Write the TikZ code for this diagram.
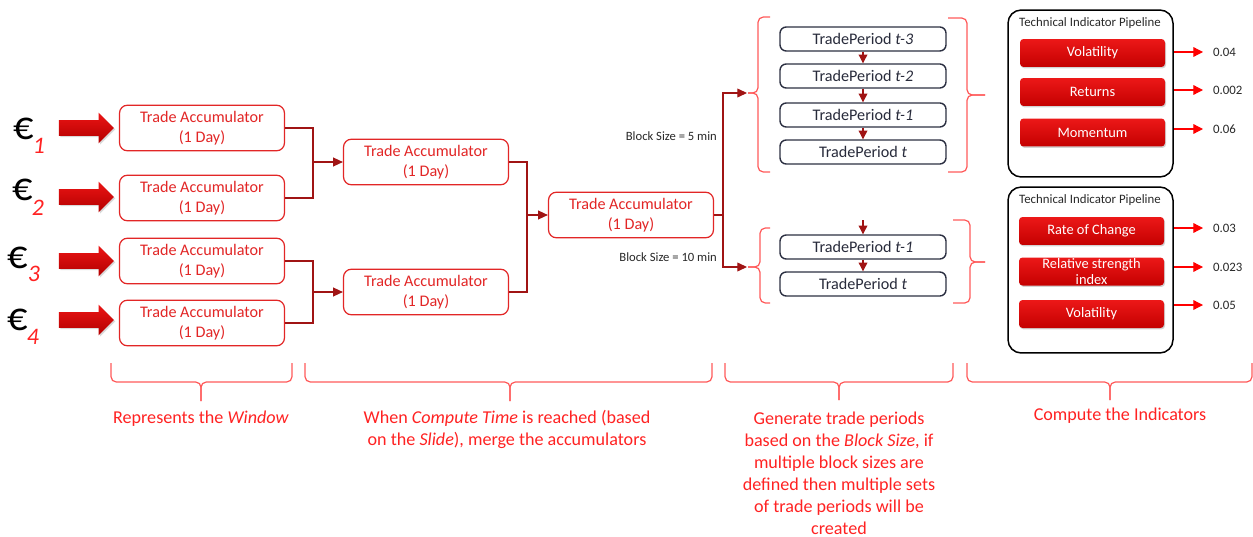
\documentclass[tikz,border=0pt]{standalone}
\usepackage{fontspec}
\setmainfont{Carlito}
\usetikzlibrary{arrows.meta,positioning,shapes.arrows,shadows}
\definecolor{accred}{RGB}{226,38,38}
\definecolor{linkred}{RGB}{160,20,20}
\definecolor{notered}{RGB}{255,34,34}
\definecolor{bracered}{RGB}{255,90,90}
\definecolor{slate}{RGB}{44,48,66}
\definecolor{inkgray}{RGB}{40,40,40}
\tikzset{
    %Define standard arrow tip
    >={Triangle[length=5.5pt,width=5.5pt]},
    %Define style for boxes
    accbox/.style={
           rectangle,
           rounded corners=4.5pt,
           draw=accred, line width=0.7pt,
           minimum width=3.3cm,
           minimum height=0.83cm,
           font=\fontsize{9.2}{11.4}\selectfont,
           text=accred,
           align=center,
           fill=white},
    periodbox/.style={
           rectangle,
           rounded corners=3.5pt,
           draw=slate, line width=0.8pt,
           minimum width=3.32cm,
           minimum height=0.48cm,
           inner sep=0pt,
           font=\fontsize{9.2}{11}\selectfont,
           text=slate!90!black,
           fill=white},
    pipebox/.style={
           rectangle,
           rounded corners=7.5pt,
           draw=black, line width=0.85pt,
           minimum width=3.3cm},
    button/.style={
           rectangle,
           rounded corners=2pt,
           minimum width=2.9cm,
           minimum height=0.56cm,
           inner sep=0pt,
           top color={rgb,255:red,236;green,24;blue,24},
           bottom color={rgb,255:red,196;green,0;blue,0},
           drop shadow={shadow xshift=0.6pt,shadow yshift=-0.8pt,opacity=0.35},
           font=\fontsize{8.2}{9}\selectfont,
           text=white,
           align=center},
    bigarrow/.style={
           single arrow,
           minimum height=1.1cm,
           minimum width=0pt,
           inner xsep=0pt,
           inner ysep=4.25pt,
           single arrow head extend=4.25pt,
           top color={rgb,255:red,236;green,20;blue,20},
           bottom color={rgb,255:red,178;green,0;blue,0},
           drop shadow={shadow xshift=0.8pt,shadow yshift=-0.8pt,opacity=0.3}},
    euro/.style={font=\fontsize{23}{23}\selectfont, inner sep=0pt},
    idx/.style={font=\fontsize{13.5}{13.5}\selectfont\itshape, text=notered, inner sep=0pt},
    title/.style={font=\fontsize{7.3}{8}\selectfont, text=inkgray, inner sep=1pt},
    blocktext/.style={font=\fontsize{7.2}{8}\selectfont, text=inkgray, inner sep=1pt},
    valtext/.style={font=\fontsize{7.3}{8}\selectfont, text=inkgray, anchor=west,
           inner xsep=5.5pt, inner ysep=1pt},
    note/.style={font=\fontsize{10.3}{12.5}\selectfont, text=notered, align=center},
    % Define arrow styles
    link/.style={draw=linkred, line width=0.65pt},
    linkarr/.style={link, ->, >={Triangle[length=5.5pt,width=5pt]}},
    steparr/.style={->, draw=linkred, line width=0.65pt, >={Triangle[length=5pt,width=5pt]}},
    outarr/.style={->, draw=red, line width=0.7pt},
    bracket/.style={draw=bracered, line width=0.7pt, rounded corners=3pt}
}
\begin{document}
\begin{tikzpicture}[x=0.02cm,y=-0.02cm]
\useasboundingbox (0,0) rectangle (1253,537);
 %inputs
\node[euro] (eur1) at (24,129) {€};
\node[idx] (i1) at (39,146) {1};
\node[euro] (eur2) at (23,190) {€};
\node[idx] (i2) at (38,208) {2};
\node[euro] (eur3) at (18,258) {€};
\node[idx] (i3) at (34,274) {3};
\node[euro] (eur4) at (18,320) {€};
\node[idx] (i4) at (33,337) {4};
\node[bigarrow] (in1) at (82.5,128) {};
\node[bigarrow] (in2) at (82.5,197) {};
\node[bigarrow] (in3) at (82.5,261) {};
\node[bigarrow] (in4) at (82.5,320) {};
 %accumulators
\node[accbox] (acc1) at (202,128) {Trade Accumulator\\(1 Day)};
\node[accbox] (acc2) at (202,198) {Trade Accumulator\\(1 Day)};
\node[accbox] (acc3) at (202,261) {Trade Accumulator\\(1 Day)};
\node[accbox] (acc4) at (202,323) {Trade Accumulator\\(1 Day)};
\node[accbox] (accA) at (426,162) {Trade Accumulator\\(1 Day)};
\node[accbox] (accB) at (426,292) {Trade Accumulator\\(1 Day)};
\node[accbox] (accC) at (631,215) {Trade Accumulator\\(1 Day)};
\coordinate (j1) at (313,162);
\coordinate (j2) at (313,292);
\coordinate (j3) at (527,215);
\coordinate (j4) at (723,215);
\draw[link] (acc1.east) -| (j1) |- (acc2.east);
\draw[link] (acc3.east) -| (j2) |- (acc4.east);
\draw[linkarr] (j1) -- (accA.west);
\draw[linkarr] (j2) -- (accB.west);
\draw[link] (accA.east) -| (j3) |- (accB.east);
\draw[linkarr] (j3) -- (accC.west);
 %block sizes
\coordinate (b5) at (747,93);
\coordinate (b10) at (747,267);
\draw[link] (accC.east) -- (j4);
\draw[linkarr] (j4) |- (b5);
\draw[linkarr] (j4) |- (b10);
\node[blocktext, anchor=east] (bs5) at (719,136) {Block Size = 5 min};
\node[blocktext, anchor=east] (bs10) at (719,257) {Block Size = 10 min};
 %trade periods
\node[periodbox] (p3) at (863,39) {TradePeriod \textit{t-3}};
\node[periodbox] (p2) at (863,76) {TradePeriod \textit{t-2}};
\node[periodbox] (p1) at (863,115) {TradePeriod \textit{t-1}};
\node[periodbox] (p0) at (863,152) {TradePeriod \textit{t}};
\node[periodbox] (q1) at (863,247) {TradePeriod \textit{t-1}};
\node[periodbox] (q0) at (863,284) {TradePeriod \textit{t}};
\coordinate (qin) at (863,220);
\draw[steparr] (p3) -- (p2);
\draw[steparr] (p2) -- (p1);
\draw[steparr] (p1) -- (p0);
\draw[steparr] (qin) -- (q1);
\draw[steparr] (q1) -- (q0);
 %brackets round the periods
\draw[bracket] (770,17) -| (758,93) -- (748,93);
\draw[bracket] (770,172) -| (758,93) -- (748,93);
\draw[bracket] (770,228) -| (760,267) -- (748,267);
\draw[bracket] (770,303) -| (760,267) -- (748,267);
\draw[bracket] (948,18) -| (967,95) -- (985,95);
\draw[bracket] (948,172) -| (967,95) -- (985,95);
\draw[bracket] (953,220) -| (970,262) -- (985,262);
\draw[bracket] (953,303) -| (970,262) -- (985,262);
 %indicator pipelines
\node[pipebox, minimum height=3.34cm] (pipeA) at (1090.5,93.5) {};
\node[pipebox, minimum height=3.32cm] (pipeB) at (1090.5,270) {};
\node[title] (tA) at (1090,23) {Technical Indicator Pipeline};
\node[title] (tB) at (1090,200) {Technical Indicator Pipeline};
\node[button] (vol) at (1092.5,53) {Volatility};
\node[button] (ret) at (1092.5,92) {Returns};
\node[button] (mom) at (1092.5,132.5) {Momentum};
\node[button] (roc) at (1091.5,231) {Rate of Change};
\node[button] (rsi) at (1091.5,271.5) {Relative strength\\index};
\node[button] (volB) at (1091.5,314) {Volatility};
\node[valtext] (v1) at (1203,52) {0.04};
\node[valtext] (v2) at (1203,90) {0.002};
\node[valtext] (v3) at (1203,129) {0.06};
\node[valtext] (v4) at (1203,228) {0.03};
\node[valtext] (v5) at (1203,267) {0.023};
\node[valtext] (v6) at (1203,305) {0.05};
\draw[outarr] (pipeA.east |- v1.west) -- (v1.west);
\draw[outarr] (pipeA.east |- v2.west) -- (v2.west);
\draw[outarr] (pipeA.east |- v3.west) -- (v3.west);
\draw[outarr] (pipeB.east |- v4.west) -- (v4.west);
\draw[outarr] (pipeB.east |- v5.west) -- (v5.west);
\draw[outarr] (pipeB.east |- v6.west) -- (v6.west);
 %bottom brackets and notes
\draw[bracket] (111,363) |- (201,382) -- (201,401);
\draw[bracket] (292,363) |- (201,382) -- (201,401);
\draw[bracket] (305,363) |- (510,382) -- (510,401);
\draw[bracket] (712,363) |- (510,382) -- (510,401);
\draw[bracket] (725,363) |- (839,382) -- (839,400);
\draw[bracket] (953,363) |- (839,382) -- (839,400);
\draw[bracket] (967,363) |- (1110,382) -- (1110,400);
\draw[bracket] (1252,363) |- (1110,382) -- (1110,400);
\node[note] (n1) at (201,419) {Represents the \textit{Window}};
\node[note] (n2) at (507,429) {When \textit{Compute Time} is reached (based\\on the \textit{Slide}), merge the accumulators};
\node[note] (n3) at (839,473) {Generate trade periods\\based on the \textit{Block Size}, if\\multiple block sizes are\\defined then multiple sets\\of trade periods will be\\created};
\node[note] (n4) at (1120,416) {Compute the Indicators};
\end{tikzpicture}
\end{document}
